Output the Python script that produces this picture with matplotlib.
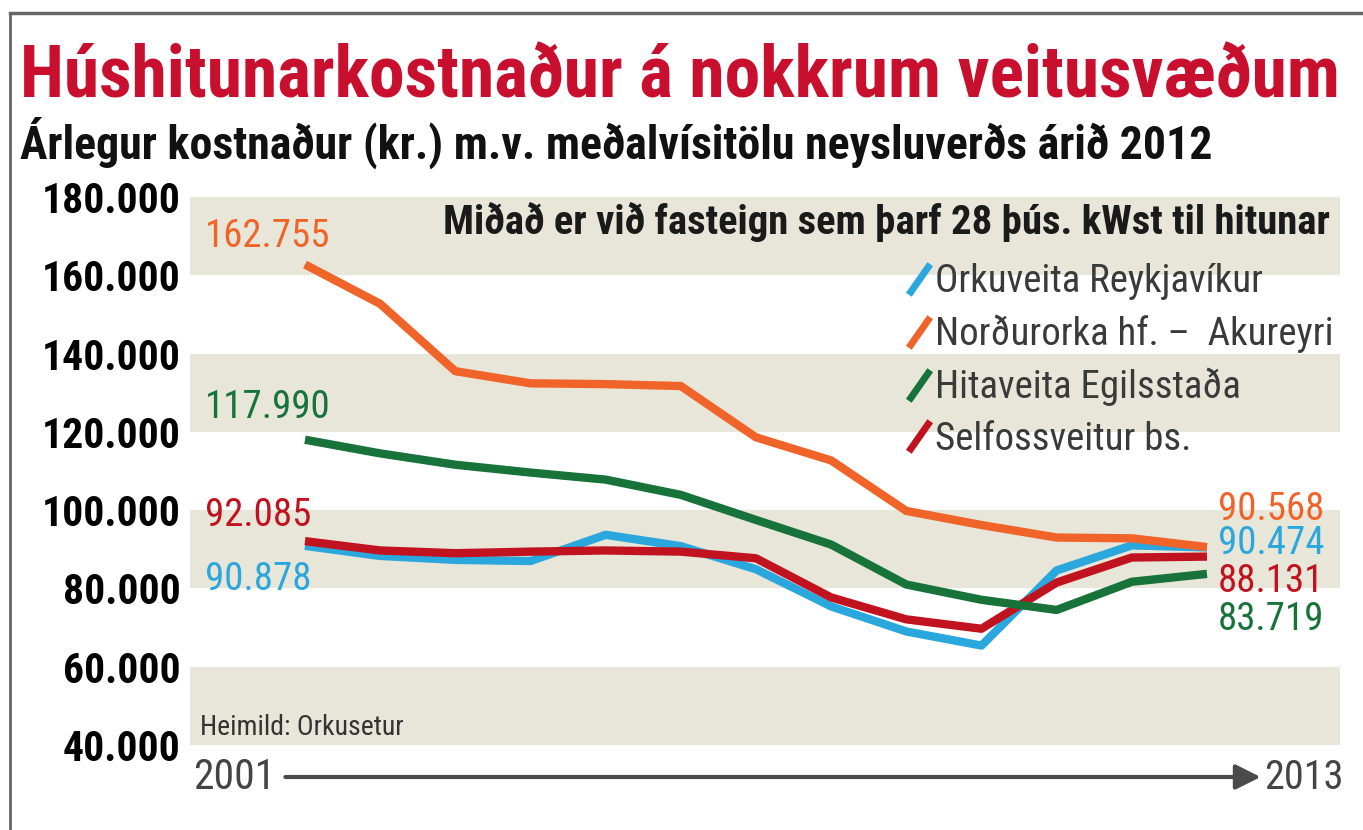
import numpy as np
import matplotlib.pyplot as plt
from matplotlib import font_manager
from matplotlib.lines import Line2D
from matplotlib.path import Path

years = np.arange(2001, 2014)
series_names = [
    "Orkuveita Reykjavíkur",
    "Norðurorka hf. –  Akureyri",
    "Hitaveita Egilsstaða",
    "Selfossveitur bs.",
]
orkuveita = [90878, 88300, 87300, 87000, 93700, 90800, 84900, 75400, 69000, 65400, 84600, 91000, 90474]
nordurorka = [162755, 152700, 135500, 132400, 132200, 131700, 118600, 112700, 99800, 96200, 93000, 92800, 90568]
egilsstadir = [117990, 114500, 111600, 109600, 107800, 103900, 97500, 91200, 81000, 77100, 74500, 81700, 83719]
selfoss = [92085, 89700, 89000, 89400, 89700, 89400, 87700, 77700, 72100, 69700, 81500, 87900, 88131]
y_ticks = [40000, 60000, 80000, 100000, 120000, 140000, 160000, 180000]

title = "Húshitunarkostnaður á nokkrum veitusvæðum"
subtitle = "Árlegur kostnaður (kr.) m.v. meðalvísitölu neysluverðs árið 2012"
note = "Miðað er við fasteign sem þarf 28 þús. kWst til hitunar"
source = "Heimild: Orkusetur"

colors = ["#2aa7dc", "#f0642a", "#17733a", "#c1121f"]
band = "#e8e5d9"

# pick a narrow face if one is installed
installed = {f.name for f in font_manager.fontManager.ttflist}
narrow = next(
    f for f in ["Roboto Condensed", "Liberation Sans Narrow", "Open Sans Condensed", "DejaVu Sans"]
    if f in installed
)
plt.rcParams["font.family"] = [narrow, "DejaVu Sans"]
plt.rcParams["font.stretch"] = "condensed"


def fmt(v):
    return f"{v:,.0f}".replace(",", ".")


W, H = 1363, 830
fig = plt.figure(figsize=(W / 100, H / 100), dpi=100)
ax = fig.add_axes([190 / W, 85 / H, 1150 / W, 548 / H])
ax.set_xlim(1999.47, 2014.77)
ax.set_ylim(40000, 180000)

for lo in y_ticks[::2]:
    ax.axhspan(lo, lo + 20000, color=band, lw=0, zorder=0)

ax.set_yticks(y_ticks, [fmt(t) for t in y_ticks])
ax.set_xticks([])
ax.tick_params(axis="y", length=0, pad=7, labelsize=30)
for lbl in ax.get_yticklabels():
    lbl.set_fontweight("bold")
for s in ax.spines.values():
    s.set_visible(False)

data = [orkuveita, nordurorka, egilsstadir, selfoss]
zorders = [2, 5, 4, 3]
for vals, c, z in zip(data, colors, zorders):
    ax.plot(years, vals, color=c, lw=6, zorder=z, solid_capstyle="butt")

# end labels
left_off = [-34, 28, 32, 26]
right_off = [4, 38, -46, -25]
for vals, c, lo, ro in zip(data, colors, left_off, right_off):
    ax.annotate(fmt(vals[0]), (years[0], vals[0]), xytext=(-100, lo),
                textcoords="offset pixels", color=c, fontsize=28,
                ha="left", va="center")
    ax.annotate(fmt(vals[-1]), (years[-1], vals[-1]), xytext=(11, ro),
                textcoords="offset pixels", color=c, fontsize=28,
                ha="left", va="center")

# legend with slanted strokes
slash = Path([(-0.35, -0.5), (0.35, 0.5)], [Path.MOVETO, Path.LINETO])
handles = [Line2D([], [], ls="none", marker=slash, markersize=22, mew=5,
                  color=c, solid_capstyle="round") for c in colors]
leg = ax.legend(handles, series_names, loc="upper left",
                bbox_to_anchor=((888 - 190) / 1150, (745 - 244) / 548),
                frameon=False, fontsize=28, handlelength=0.6,
                handletextpad=0.1, labelspacing=0.37, borderpad=0)
for t in leg.get_texts():
    t.set_color("#3a3a3a")

ax.text(0.991, (745 - 222) / 548, note, transform=ax.transAxes, ha="right",
        va="center", fontsize=29.3, fontweight="bold", color="#1a1a1a")
ax.text(10 / 1150, (745 - 727) / 548, source, transform=ax.transAxes,
        ha="left", va="center", fontsize=20, color="#333333")

# time arrow
ay = (745 - 777) / 548
ax.annotate("", xy=(0.931, ay), xytext=(0.083, ay), xycoords="axes fraction",
            arrowprops=dict(arrowstyle="-|>", lw=3, color="#4a4a4a",
                            mutation_scale=38, shrinkA=0, shrinkB=0))
ax.text(0.074, ay, "2001", transform=ax.transAxes, ha="right", va="center",
        fontsize=30, color="#444444", clip_on=False)
ax.text(0.934, ay, "2013", transform=ax.transAxes, ha="left", va="center",
        fontsize=29, color="#444444", clip_on=False)

fig.text(20 / W, 1 - 78 / H, title, ha="left", va="center", fontsize=51.5,
         fontweight="bold", color="#c8102e")
fig.text(20 / W, 1 - 143 / H, subtitle, ha="left", va="center", fontsize=33,
         fontweight="bold", color="#111111")

# frame lines
fig.add_artist(Line2D([10 / W, 1], [1 - 13 / H, 1 - 13 / H], lw=2.5, color="#666666"))
fig.add_artist(Line2D([10 / W, 10 / W], [0, 1 - 13 / H], lw=2, color="#666666"))

fig.savefig("out.png", dpi=100)
